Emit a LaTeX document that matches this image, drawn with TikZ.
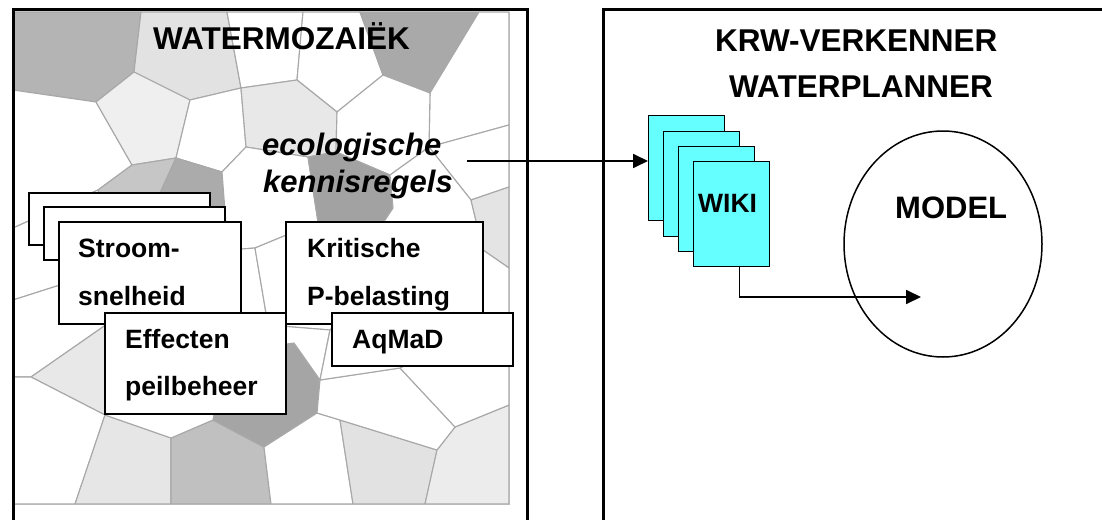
\documentclass[tikz,border=0pt]{standalone}
\usepackage{fontspec}
\setmainfont{Liberation Sans}
\usetikzlibrary{arrows.meta,shapes.geometric,calc}
\definecolor{edgegray}{HTML}{A8A8A8}
\definecolor{gA}{HTML}{B4B4B4}
\definecolor{gB}{HTML}{E2E2E2}
\definecolor{gC}{HTML}{A9A9A9}
\definecolor{gD}{HTML}{EFEFEF}
\definecolor{gE}{HTML}{E8E8E8}
\definecolor{gF}{HTML}{C6C6C6}
\definecolor{gG}{HTML}{ABABAB}
\definecolor{gH}{HTML}{A2A2A2}
\definecolor{gI}{HTML}{E4E4E4}
\definecolor{gJ}{HTML}{E8E8E8}
\definecolor{gK}{HTML}{E6E6E6}
\definecolor{gL}{HTML}{C0C0C0}
\definecolor{gM}{HTML}{A5A5A5}
\definecolor{gN}{HTML}{E2E2E2}
\definecolor{gO}{HTML}{ECECEC}
\definecolor{wikicyan}{HTML}{66FFFF}
\begin{document}
\begin{tikzpicture}[x=1pt,y=-1pt,
  cell/.style={draw=edgegray, line width=1.1pt, line join=round},
  frameline/.style={draw=black, line width=3pt},
  box/.style={draw=black, fill=white, line width=1.6pt, inner sep=0pt, anchor=north west},
  sheet/.style={draw=black, fill=wikicyan, line width=1.4pt, inner sep=0pt,
     minimum width=76pt, minimum height=105pt, anchor=north west},
  lbl/.style={font=\fontsize{26.5}{30}\selectfont\bfseries, inner sep=0pt, anchor=base west},
  ttl/.style={font=\fontsize{31.5}{36}\selectfont\bfseries, inner sep=0pt, anchor=base west},
  itl/.style={font=\fontsize{31}{36}\selectfont\bfseries\itshape, inner sep=0pt, anchor=base west},
  conn/.style={draw=black, line width=1.8pt, -{Triangle[length=15pt,width=14pt]}},
]
\useasboundingbox (0,0) rectangle (1102,519);
\clip (0,0) rectangle (1102,519);
\fill[white] (0,0) rectangle (1102,519);

% ---------- mosaic ----------
\begin{scope}
\clip (13,12) rectangle (509,504);
\path[cell, fill=gA] (13,12) -- (141,12) -- (134,72) -- (96,102) -- (13,90) -- cycle;
\path[cell, fill=gB] (141,12) -- (227,12) -- (241,88) -- (190,100) -- (134,72) -- cycle;
\path[cell, fill=white] (227,12) -- (303,12) -- (297,80) -- (241,88) -- cycle;
\path[cell, fill=white] (303,12) -- (360,12) -- (383,75) -- (337,112) -- (297,80) -- cycle;
\path[cell, fill=gC] (360,12) -- (479,12) -- (430,93) -- (383,75) -- cycle;
\path[cell, fill=white] (479,12) -- (509,12) -- (509,125) -- (429,147) -- (430,93) -- cycle;
\path[cell, fill=white] (13,90) -- (96,102) -- (132,165) -- (98,190) -- (13,228) -- cycle;
\path[cell, fill=gD] (96,102) -- (134,72) -- (190,100) -- (176,158) -- (132,165) -- cycle;
\path[cell, fill=white] (190,100) -- (241,88) -- (246,147) -- (222,172) -- (176,158) -- cycle;
\path[cell, fill=gE] (241,88) -- (297,80) -- (337,112) -- (336,152) -- (308,157) -- (246,147) -- cycle;
\path[cell, fill=white] (337,112) -- (383,75) -- (430,93) -- (429,147) -- (390,175) -- (336,152) -- cycle;
\path[cell, fill=white] (429,147) -- (509,125) -- (509,187) -- (471,200) -- cycle;
\path[cell, fill=gF] (98,190) -- (132,165) -- (176,158) -- (150,215) -- (108,245) -- cycle;
\path[cell, fill=gG] (176,158) -- (222,172) -- (228,250) -- (178,252) -- (150,215) -- cycle;
\path[cell, fill=white] (222,172) -- (246,147) -- (308,157) -- (318,222) -- (255,248) -- (228,250) -- cycle;
\path[cell, fill=gH] (308,157) -- (336,152) -- (390,175) -- (393,208) -- (372,240) -- (318,222) -- cycle;
\path[cell, fill=white] (390,175) -- (429,147) -- (471,200) -- (483,250) -- (455,265) -- (405,268) -- (372,240) -- (393,208) -- cycle;
\path[cell, fill=gI] (471,200) -- (509,187) -- (509,268) -- (483,250) -- cycle;
\path[cell, fill=white] (483,250) -- (509,268) -- (509,360) -- (470,330) -- (455,265) -- cycle;
\path[cell, fill=white] (13,228) -- (98,190) -- (108,245) -- (60,285) -- (13,300) -- cycle;
\path[cell, fill=white] (13,300) -- (60,285) -- (110,322) -- (31,377) -- (13,377) -- cycle;
\path[cell, fill=gJ] (31,377) -- (110,322) -- (150,360) -- (105,415) -- cycle;
\path[cell, fill=white] (13,377) -- (31,377) -- (105,415) -- (75,504) -- (13,504) -- cycle;
\path[cell, fill=gK] (105,415) -- (171,438) -- (171,504) -- (75,504) -- cycle;
\path[cell, fill=gL] (171,438) -- (213,420) -- (264,447) -- (271,504) -- (171,504) -- cycle;
\path[cell, fill=gM] (213,420) -- (225,352) -- (294,343) -- (320,380) -- (317,413) -- (264,447) -- cycle;
\path[cell, fill=white] (264,447) -- (317,413) -- (340,420) -- (353,504) -- (271,504) -- cycle;
\path[cell, fill=gN] (340,420) -- (437,450) -- (425,504) -- (353,504) -- cycle;
\path[cell, fill=gO] (437,450) -- (455,427) -- (509,405) -- (509,504) -- (425,504) -- cycle;
\path[cell, fill=white] (317,413) -- (320,380) -- (400,368) -- (455,427) -- (437,450) -- (340,420) -- cycle;
\path[cell, fill=white] (400,368) -- (470,330) -- (509,360) -- (509,405) -- (455,427) -- cycle;
\path[cell, fill=white] (60,285) -- (108,245) -- (150,215) -- (178,252) -- (150,300) -- (110,322) -- cycle;
\path[cell, fill=white] (178,252) -- (228,250) -- (255,248) -- (268,325) -- (232,335) -- (150,300) -- cycle;
\path[cell, fill=white] (150,300) -- (232,335) -- (225,352) -- (150,360) -- (110,322) -- cycle;
\path[cell, fill=white] (150,360) -- (225,352) -- (213,420) -- (171,438) -- (105,415) -- cycle;
\path[cell, fill=white] (255,248) -- (318,222) -- (372,240) -- (405,268) -- (330,330) -- (268,325) -- cycle;
\path[cell, fill=white] (232,335) -- (268,325) -- (330,330) -- (320,380) -- (294,343) -- (225,352) -- cycle;
\path[cell, fill=white] (330,330) -- (405,268) -- (455,265) -- (470,330) -- (400,368) -- (320,380) -- cycle;
\end{scope}
\draw[draw=edgegray!80, line width=1pt] (509,12) -- (509,504) -- (13,504);

% ---------- frames ----------
\draw[frameline] (13,530) -- (13,10) -- (527,10) -- (527,530);
\draw[frameline] (603,530) -- (603,10) -- (1110,10);

% ---------- titles ----------
\node[ttl] (tleft) at (153,50) {WATERMOZAIËK};
\node[ttl] (tright1) at (715,52) {KRW-VERKENNER};
\node[ttl] (tright2) at (729,97) {WATERPLANNER};

% ---------- ecological rules ----------
\node[itl] (eco1) at (262,155) {ecologische};
\node[itl] (eco2) at (263,192) {kennisregels};

% ---------- boxes ----------
\node[box, minimum width=181pt, minimum height=52pt] (back1) at (28,192) {};
\node[box, minimum width=181pt, minimum height=53pt] (back2) at (43,206) {};
\node[box, minimum width=182pt, minimum height=102pt] (stroom) at (58,221) {};
\node[lbl] (stroomA) at (78,257) {Stroom-};
\node[lbl] (stroomB) at (78,305) {snelheid};

\node[box, minimum width=197pt, minimum height=102pt] (kritisch) at (285,221) {};
\node[lbl] (kritA) at (307,257) {Kritische};
\node[lbl] (kritB) at (307,305) {P-belasting};

\node[box, minimum width=181pt, minimum height=101pt] (effect) at (104,312) {};
\node[lbl] (effA) at (125,348) {Effecten};
\node[lbl] (effB) at (125,395) {peilbeheer};

\node[box, minimum width=181pt, minimum height=53pt] (aqmad) at (331,312) {};
\node[lbl] (aqmadT) at (352,348) {AqMaD};

% ---------- WIKI stack ----------
\node[sheet] (sheet1) at (648,115) {};
\node[sheet] (sheet2) at (663,131) {};
\node[sheet] (sheet3) at (678,146) {};
\node[sheet] (sheet4) at (693,161) {};
\node[lbl] (wiki) at (698,212) {WIKI};

% ---------- MODEL ----------
\node[draw=black, ellipse, line width=1.5pt, minimum width=198pt, minimum height=226pt, inner sep=0pt] (model) at (943,244) {};
\node[ttl, font=\fontsize{31}{36}\selectfont\bfseries] (modelT) at (895,218) {MODEL};

% ---------- connectors ----------
\coordinate (ecoOut) at (467,161);
\draw[conn] (ecoOut) -- (ecoOut -| sheet1.west);
\coordinate (wikiOut) at ($(sheet4.south west)!0.6!(sheet4.south east)$);
\coordinate (modelIn) at (921,297);
\draw[conn] (wikiOut) |- (modelIn);
\end{tikzpicture}
\end{document}
